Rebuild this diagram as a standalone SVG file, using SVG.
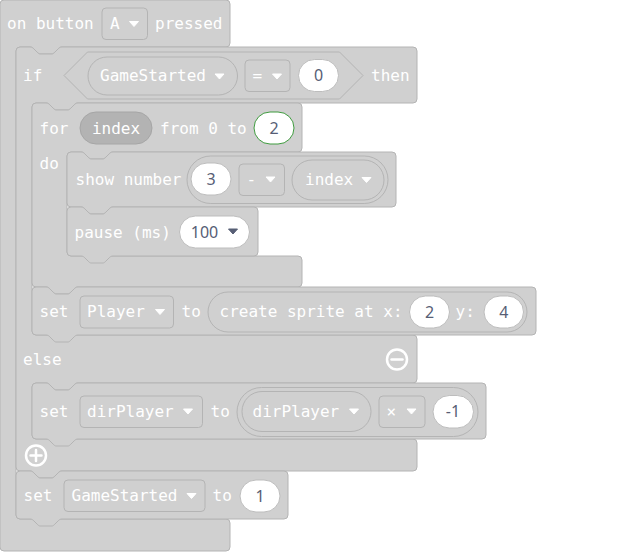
<svg xmlns="http://www.w3.org/2000/svg" width="640" height="552" viewBox="0 0 640 552">
<defs>
<style>
.blk{fill:#d0d0d0;stroke:#b4b4b4;stroke-width:1}
.fld{fill:#d0d0d0;stroke:#b4b4b4;stroke-width:1}
.var{fill:#d0d0d0;stroke:#b4b4b4;stroke-width:1}
.dvar{fill:#b3b3b3;stroke:#a6a6a6;stroke-width:1}
.wht{fill:#ffffff;stroke:#bdbdbd;stroke-width:1}
.t{font-family:"DejaVu Sans Mono",monospace;font-size:16px;fill:#ffffff}
.n{font-family:"Noto Sans",sans-serif;font-size:16px;fill:#575e75;text-anchor:middle}
.arw{fill:#ffffff;stroke:#ffffff;stroke-width:1;stroke-linejoin:round}
.darw{fill:#575e75;stroke:#575e75;stroke-width:1;stroke-linejoin:round}
.ico{fill:none;stroke:#ffffff;stroke-width:2.5;stroke-linecap:round}
</style>
</defs>
<rect width="640" height="552" fill="#ffffff"/>

<g id="event-block">
<path class="blk" d="M0,4 a4,4 0 0 1 4,-4 H226 a4,4 0 0 1 4,4 V43 a4,4 0 0 1 -4,4 H62 c-2,0 -3,1 -4,2 l-3,3 c-1,1 -2,2 -3,2 h-12 c-1,0 -2,-1 -3,-2 l-3,-3 c-1,-1 -2,-2 -4,-2 H20 a4,4 0 0 0 -4,4 V515 a4,4 0 0 0 4,4 H226 a4,4 0 0 1 4,4 V547 a4,4 0 0 1 -4,4 H4 a4,4 0 0 1 -4,-4 Z"/>
<text class="t" x="7" y="29">on button</text>
<rect class="fld" x="102" y="8" width="45.5" height="31.5" rx="4"/>
<text class="t" x="110" y="29">A</text>
<path class="arw" d="M129.5,21.5 h9 l-4.5,5 z"/>
<text class="t" x="155" y="29">pressed</text>
</g>

<g id="if-block">
<path class="blk" d="M16,51 a4,4 0 0 1 4,-4 H30 c2,0 3,1 4,2 l3,3 c1,1 2,2 3,2 h12 c1,0 2,-1 3,-2 l3,-3 c1,-1 2,-2 4,-2 H413 a4,4 0 0 1 4,4 V99 a4,4 0 0 1 -4,4 H78 c-2,0 -3,1 -4,2 l-3,3 c-1,1 -2,2 -3,2 h-12 c-1,0 -2,-1 -3,-2 l-3,-3 c-1,-1 -2,-2 -4,-2 H36 a4,4 0 0 0 -4,4 V331 a4,4 0 0 0 4,4 H413 a4,4 0 0 1 4,4 V379 a4,4 0 0 1 -4,4 H78 c-2,0 -3,1 -4,2 l-3,3 c-1,1 -2,2 -3,2 h-12 c-1,0 -2,-1 -3,-2 l-3,-3 c-1,-1 -2,-2 -4,-2 H36 a4,4 0 0 0 -4,4 V435 a4,4 0 0 0 4,4 H413 a4,4 0 0 1 4,4 V467 a4,4 0 0 1 -4,4 H62 c-2,0 -3,1 -4,2 l-3,3 c-1,1 -2,2 -3,2 h-12 c-1,0 -2,-1 -3,-2 l-3,-3 c-1,-1 -2,-2 -4,-2 H20 a4,4 0 0 1 -4,-4 Z"/>
<text class="t" x="23" y="81">if</text>
<path class="blk" d="M64,75.5 L87.5,52 H339.5 L363,75.5 L339.5,99 H87.5 Z"/>
<rect class="var" x="88" y="57" width="149.5" height="38" rx="19"/>
<text class="t" x="100" y="81">GameStarted</text>
<path class="arw" d="M215,74 h9 l-4.5,5 z"/>
<rect class="fld" x="245" y="60" width="45" height="31.5" rx="4"/>
<text class="t" x="252.5" y="81">=</text>
<path class="arw" d="M272.5,74 h9 l-4.5,5 z"/>
<rect class="wht" x="298.5" y="59.5" width="40" height="32" rx="16"/>
<text class="n" x="318.5" y="81.3">0</text>
<text class="t" x="371" y="81">then</text>
<text class="t" x="23" y="365">else</text>
<circle class="ico" cx="397" cy="359.5" r="10"/>
<path class="ico" d="M391.5,359.5 h11"/>
<circle class="ico" cx="36" cy="455.5" r="10"/>
<path class="ico" d="M30.5,455.5 h11 M36,450 v11"/>
</g>

<g id="for-block">
<path class="blk" d="M32,107 a4,4 0 0 1 4,-4 H46 c2,0 3,1 4,2 l3,3 c1,1 2,2 3,2 h12 c1,0 2,-1 3,-2 l3,-3 c1,-1 2,-2 4,-2 H298 a4,4 0 0 1 4,4 V148 a4,4 0 0 1 -4,4 H113 c-2,0 -3,1 -4,2 l-3,3 c-1,1 -2,2 -3,2 h-12 c-1,0 -2,-1 -3,-2 l-3,-3 c-1,-1 -2,-2 -4,-2 H71 a4,4 0 0 0 -4,4 V252 a4,4 0 0 0 4,4 H298 a4,4 0 0 1 4,4 V283 a4,4 0 0 1 -4,4 H78 c-2,0 -3,1 -4,2 l-3,3 c-1,1 -2,2 -3,2 h-12 c-1,0 -2,-1 -3,-2 l-3,-3 c-1,-1 -2,-2 -4,-2 H36 a4,4 0 0 1 -4,-4 Z"/>
<text class="t" x="39.5" y="133.5">for</text>
<rect class="dvar" x="80" y="112" width="72" height="32" rx="16"/>
<text class="t" x="116" y="133.5" text-anchor="middle">index</text>
<text class="t" x="160" y="133.5">from 0 to</text>
<rect x="254" y="112" width="40" height="32" rx="16" fill="#ffffff" stroke="#3f9b3f" stroke-width="1"/>
<text class="n" x="274" y="133.7">2</text>
<text class="t" x="39.5" y="169">do</text>
</g>

<g id="show-number-block">
<path class="blk" d="M67,156 a4,4 0 0 1 4,-4 H81 c2,0 3,1 4,2 l3,3 c1,1 2,2 3,2 h12 c1,0 2,-1 3,-2 l3,-3 c1,-1 2,-2 4,-2 H392 a4,4 0 0 1 4,4 V203 a4,4 0 0 1 -4,4 H113 c-2,0 -3,1 -4,2 l-3,3 c-1,1 -2,2 -3,2 h-12 c-1,0 -2,-1 -3,-2 l-3,-3 c-1,-1 -2,-2 -4,-2 H71 a4,4 0 0 1 -4,-4 Z"/>
<text class="t" x="75.5" y="185">show number</text>
<rect class="blk" x="187" y="156" width="201" height="47.5" rx="23.75"/>
<rect class="wht" x="191" y="163" width="40" height="32" rx="16"/>
<text class="n" x="211" y="185">3</text>
<rect class="fld" x="239" y="164" width="45.5" height="31.5" rx="4"/>
<text class="t" x="246.5" y="185">-</text>
<path class="arw" d="M266,177 h9 l-4.5,5 z"/>
<rect class="var" x="292" y="160" width="92" height="40" rx="20"/>
<text class="t" x="305" y="185">index</text>
<path class="arw" d="M362,177.5 h9 l-4.5,5 z"/>
</g>

<g id="pause-block">
<path class="blk" d="M67,211 a4,4 0 0 1 4,-4 H81 c2,0 3,1 4,2 l3,3 c1,1 2,2 3,2 h12 c1,0 2,-1 3,-2 l3,-3 c1,-1 2,-2 4,-2 H254 a4,4 0 0 1 4,4 V252 a4,4 0 0 1 -4,4 H113 c-2,0 -3,1 -4,2 l-3,3 c-1,1 -2,2 -3,2 h-12 c-1,0 -2,-1 -3,-2 l-3,-3 c-1,-1 -2,-2 -4,-2 H71 a4,4 0 0 1 -4,-4 Z"/>
<text class="t" x="74.5" y="237.5">pause (ms)</text>
<rect class="wht" x="179.5" y="216" width="70" height="32" rx="16"/>
<text class="n" x="204.5" y="237.7">100</text>
<path class="darw" d="M228.5,229 h9 l-4.5,5 z"/>
</g>

<g id="set-player-block">
<path class="blk" d="M32,291 a4,4 0 0 1 4,-4 H46 c2,0 3,1 4,2 l3,3 c1,1 2,2 3,2 h12 c1,0 2,-1 3,-2 l3,-3 c1,-1 2,-2 4,-2 H532 a4,4 0 0 1 4,4 V331 a4,4 0 0 1 -4,4 H78 c-2,0 -3,1 -4,2 l-3,3 c-1,1 -2,2 -3,2 h-12 c-1,0 -2,-1 -3,-2 l-3,-3 c-1,-1 -2,-2 -4,-2 H36 a4,4 0 0 1 -4,-4 Z"/>
<text class="t" x="39.5" y="317">set</text>
<rect class="fld" x="80" y="296" width="93.5" height="32" rx="4"/>
<text class="t" x="87" y="317">Player</text>
<path class="arw" d="M155.5,309.5 h9 l-4.5,5 z"/>
<text class="t" x="181.5" y="317">to</text>
<rect class="blk" x="208" y="292" width="319" height="40" rx="20"/>
<text class="t" x="219.5" y="317">create sprite at x:</text>
<rect class="wht" x="409.5" y="296" width="40" height="32" rx="16"/>
<text class="n" x="429.5" y="317.7">2</text>
<text class="t" x="455.5" y="317">y:</text>
<rect class="wht" x="484" y="296" width="39.5" height="32" rx="16"/>
<text class="n" x="503.8" y="317.7">4</text>
</g>

<g id="set-dirplayer-block">
<path class="blk" d="M32,387 a4,4 0 0 1 4,-4 H46 c2,0 3,1 4,2 l3,3 c1,1 2,2 3,2 h12 c1,0 2,-1 3,-2 l3,-3 c1,-1 2,-2 4,-2 H482 a4,4 0 0 1 4,4 V435 a4,4 0 0 1 -4,4 H78 c-2,0 -3,1 -4,2 l-3,3 c-1,1 -2,2 -3,2 h-12 c-1,0 -2,-1 -3,-2 l-3,-3 c-1,-1 -2,-2 -4,-2 H36 a4,4 0 0 1 -4,-4 Z"/>
<text class="t" x="39.5" y="416.5">set</text>
<rect class="fld" x="80" y="396" width="122.5" height="31.5" rx="4"/>
<text class="t" x="87" y="416.5">dirPlayer</text>
<path class="arw" d="M183.5,409 h9 l-4.5,5 z"/>
<text class="t" x="210.5" y="416.5">to</text>
<rect class="blk" x="237" y="387.5" width="241" height="49" rx="24.5"/>
<rect class="var" x="242" y="391.5" width="129" height="40" rx="20"/>
<text class="t" x="252.5" y="416.5">dirPlayer</text>
<path class="arw" d="M349.5,409 h9 l-4.5,5 z"/>
<rect class="fld" x="379" y="396" width="46" height="31.5" rx="4"/>
<text class="t" x="386.5" y="416.5">×</text>
<path class="arw" d="M407,409 h9 l-4.5,5 z"/>
<rect class="wht" x="433" y="395.5" width="40.5" height="32.5" rx="16.25"/>
<text class="n" x="453" y="417.3">-1</text>
</g>

<g id="set-gamestarted-block">
<path class="blk" d="M16,475 a4,4 0 0 1 4,-4 H30 c2,0 3,1 4,2 l3,3 c1,1 2,2 3,2 h12 c1,0 2,-1 3,-2 l3,-3 c1,-1 2,-2 4,-2 H284 a4,4 0 0 1 4,4 V515 a4,4 0 0 1 -4,4 H62 c-2,0 -3,1 -4,2 l-3,3 c-1,1 -2,2 -3,2 h-12 c-1,0 -2,-1 -3,-2 l-3,-3 c-1,-1 -2,-2 -4,-2 H20 a4,4 0 0 1 -4,-4 Z"/>
<text class="t" x="23.5" y="501">set</text>
<rect class="fld" x="64" y="480" width="141" height="31.5" rx="4"/>
<text class="t" x="71.5" y="501">GameStarted</text>
<path class="arw" d="M187,493.5 h9 l-4.5,5 z"/>
<text class="t" x="212.5" y="501">to</text>
<rect class="wht" x="240" y="480" width="40" height="32" rx="16"/>
<text class="n" x="260" y="501.7">1</text>
</g>

<g id="connectors"></g>
</svg>
